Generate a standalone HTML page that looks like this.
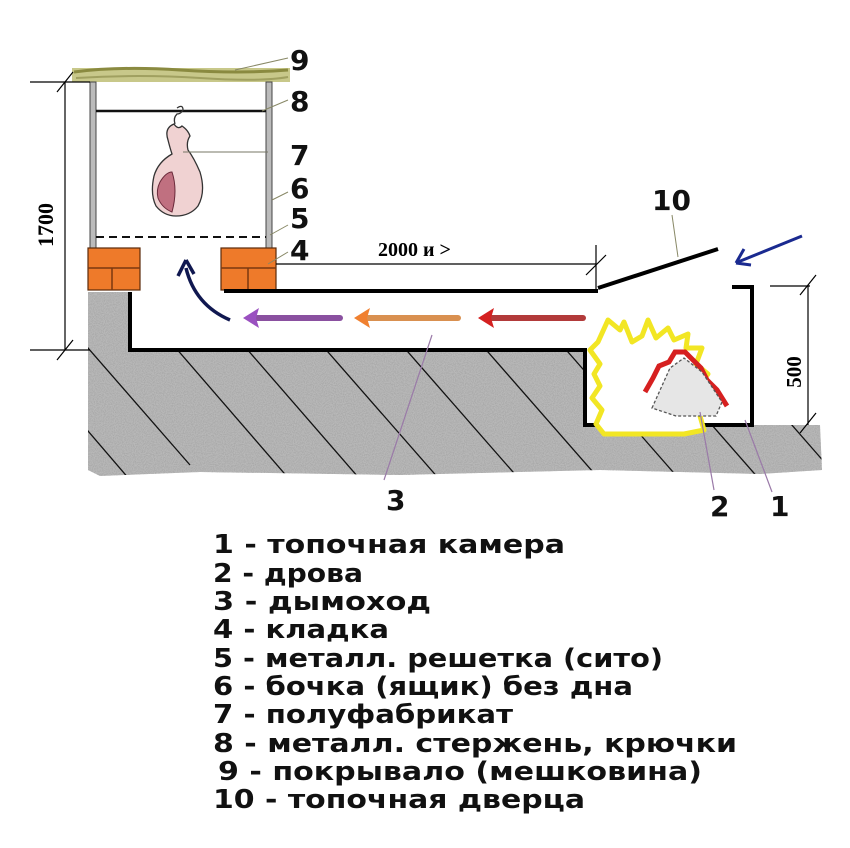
<!DOCTYPE html>
<html><head><meta charset="utf-8"><style>
html,body{margin:0;padding:0;background:#fff;}
svg{display:block;}
</style></head><body>
<svg width="850" height="848" viewBox="0 0 850 848" xmlns="http://www.w3.org/2000/svg">
<defs>
<filter id="noise" x="0" y="0" width="100%" height="100%">
<feTurbulence type="fractalNoise" baseFrequency="0.9" numOctaves="2" seed="3" result="t"/>
<feColorMatrix in="t" type="matrix" values="0 0 0 0 0.4  0 0 0 0 0.4  0 0 0 0 0.4  0 0 0 -3 1.9" result="n"/>
<feComposite in="n" in2="SourceGraphic" operator="in"/>
</filter>
<clipPath id="gclip"><path id="gp" d="M88,292 L130,292 L130,350 L585,350 L585,425 L752,425 L820,425 L822,470 L760,474 L600,470 L400,475 L200,472 L100,476 L88,470 Z"/></clipPath>
</defs>
<rect width="850" height="848" fill="#fff"/>

<!-- ground -->
<g clip-path="url(#gclip)">
<rect x="80" y="285" width="750" height="200" fill="#b8b8b8"/>
<rect x="80" y="285" width="750" height="200" fill="#fff" filter="url(#noise)"/>
<g stroke="#111" stroke-width="1.3">
<line x1="20" y1="270" x2="190" y2="465"/>
<line x1="40" y1="375" x2="130" y2="480"/>
<line x1="130" y1="295" x2="290" y2="480"/>
<line x1="200" y1="295" x2="365" y2="485"/>
<line x1="300" y1="320" x2="440" y2="480"/>
<line x1="380" y1="320" x2="520" y2="480"/>
<line x1="460" y1="320" x2="600" y2="480"/>
<line x1="540" y1="320" x2="680" y2="480"/>
<line x1="620" y1="320" x2="760" y2="480"/>
<line x1="700" y1="320" x2="840" y2="480"/>
</g>
</g>

<!-- cover -->
<rect x="72" y="68" width="218" height="14" fill="#c8c88a"/>
<path d="M74,72 Q120,66 180,70 T288,70" stroke="#8a8a40" stroke-width="3" fill="none"/>
<path d="M76,78 Q140,74 200,78 T288,77" stroke="#a0a060" stroke-width="2" fill="none"/>

<!-- barrel posts -->
<rect x="90" y="82" width="6" height="166" fill="#bbb" stroke="#444" stroke-width="1"/>
<rect x="266" y="82" width="6" height="166" fill="#bbb" stroke="#444" stroke-width="1"/>
<line x1="96" y1="111" x2="266" y2="111" stroke="#111" stroke-width="2.5"/>
<line x1="96" y1="237" x2="266" y2="237" stroke="#111" stroke-width="2" stroke-dasharray="8,5"/>

<!-- meat -->
<path d="M177,108 q6,-4 6,2 q-2,4 -6,4 q-4,4 -2,10" stroke="#333" stroke-width="1.3" fill="none"/>
<path d="M174,124 q-10,4 -6,16 q2,8 4,14 q-14,8 -18,22 q-4,18 2,30 q8,10 20,10 q14,0 22,-10 q8,-14 2,-34 q-6,-14 -12,-22 q-2,-8 2,-14 q-2,-6 -8,-10 q-4,4 -8,-2z" fill="#f0d2d2" stroke="#333" stroke-width="1.3"/>
<path d="M160,182 q6,-10 12,-10 q6,18 0,40 q-10,-4 -14,-14 q-2,-8 2,-16z" fill="#c07080" stroke="#6a2a3a" stroke-width="1"/>
<line x1="183" y1="152" x2="268" y2="152" stroke="#776" stroke-width="1"/>

<!-- bricks -->
<g fill="#ee7a2a" stroke="#5a2a0a" stroke-width="1.2">
<rect x="88" y="248" width="52" height="42"/>
<rect x="221" y="248" width="55" height="42"/>
</g>
<g stroke="#7a3810" stroke-width="1.5">
<line x1="88" y1="268" x2="140" y2="268"/><line x1="112" y1="268" x2="112" y2="290"/>
<line x1="221" y1="268" x2="276" y2="268"/><line x1="248" y1="268" x2="248" y2="290"/>
</g>

<!-- duct and firebox lines -->
<path d="M130,292 L130,350 L585,350 L585,425 L752,425 L752,287 L732,287" stroke="#000" stroke-width="4" fill="none"/>
<line x1="224" y1="291" x2="598" y2="291" stroke="#000" stroke-width="4"/>
<line x1="598" y1="288" x2="718" y2="249" stroke="#000" stroke-width="4"/>

<!-- dimension lines -->
<g stroke="#000" stroke-width="1.2">
<line x1="65" y1="82" x2="65" y2="350"/>
<line x1="30" y1="82" x2="90" y2="82"/><line x1="57" y1="92" x2="73" y2="72"/>
<line x1="30" y1="350" x2="90" y2="350"/><line x1="57" y1="360" x2="73" y2="340"/>
<line x1="276" y1="264" x2="596" y2="264"/>
<line x1="596" y1="245" x2="596" y2="290"/><line x1="586" y1="275" x2="606" y2="255"/>
<line x1="808" y1="285" x2="808" y2="425"/>
<line x1="770" y1="286" x2="810" y2="286"/><line x1="800" y1="295" x2="816" y2="275"/>
<line x1="800" y1="433" x2="816" y2="413"/>
</g>
<text x="0" y="0" transform="translate(53,225) rotate(-90)" text-anchor="middle" font-family="Liberation Serif, serif" font-weight="bold" font-size="22">1700</text>
<text x="0" y="0" transform="translate(801,372) rotate(-90)" text-anchor="middle" font-family="Liberation Serif, serif" font-weight="bold" font-size="21">500</text>
<text x="378" y="256" font-family="Liberation Serif, serif" font-weight="bold" font-size="20">2000 и &gt;</text>

<!-- flow arrows -->
<g stroke-width="6" fill="none" stroke-linecap="round">
<line x1="490" y1="318" x2="583" y2="318" stroke="#b23a3a"/>
<line x1="365" y1="318" x2="458" y2="318" stroke="#d99050"/>
<line x1="255" y1="318" x2="340" y2="318" stroke="#8a50a0"/>
</g>
<path d="M478,318 l16,-10 l-3,10 l3,10z" fill="#d42020"/>
<path d="M354,318 l16,-10 l-3,10 l3,10z" fill="#f08030"/>
<path d="M243,318 l16,-10 l-3,10 l3,10z" fill="#9a50c0"/>
<path d="M230,320 Q195,305 186,268" stroke="#101850" stroke-width="3.5" fill="none"/>
<path d="M186,260 l-8,16 m8,-16 l8,14" stroke="#101850" stroke-width="3.5" fill="none"/>
<path d="M802,236 L738,262" stroke="#1a2a90" stroke-width="3"/>
<path d="M736,263 l8,-14 m-8,14 l15,2" stroke="#1a2a90" stroke-width="3" fill="none"/>

<!-- fire -->
<path d="M608,320 l12,10 l4,-8 l8,20 l10,-6 l6,-16 l8,18 l12,-10 l6,12 l14,-6 l-2,14 l16,0 l-6,16 l12,10 l-8,10 l10,16 l-10,16 l4,14 l-20,4 l-80,0 l-8,-10 l6,-14 l-10,-12 l8,-12 l-6,-12 l6,-10 l-10,-14 l8,-8 z" fill="#fff" stroke="#f2e624" stroke-width="5" stroke-linejoin="round"/>
<path d="M645,392 l8,-14 l6,-12 l10,-4 l6,-10 l10,0 l8,8 l8,8 l6,12 l10,10 l10,16" fill="none" stroke="#d62020" stroke-width="5"/>
<path d="M652,408 l18,-40 l14,-10 l18,14 l20,30 l-6,14 l-40,0 z" fill="#e6e6e6" stroke="#555" stroke-width="1.3" stroke-dasharray="3,2"/>

<!-- leader lines -->
<g stroke="#886" stroke-width="1">
<line x1="235" y1="70" x2="288" y2="58"/>
<line x1="262" y1="111" x2="288" y2="100"/>
<line x1="272" y1="200" x2="288" y2="192"/>
<line x1="270" y1="235" x2="288" y2="225"/>
<line x1="268" y1="264" x2="288" y2="252"/>
<line x1="678" y1="257" x2="672" y2="215"/>
</g>
<g stroke="#9a7aa8" stroke-width="1.2">
<line x1="432" y1="335" x2="384" y2="480"/>
<line x1="700" y1="412" x2="714" y2="490"/>
<line x1="745" y1="420" x2="772" y2="492"/>
</g>

<!-- number labels -->
<g font-family="DejaVu Sans, Liberation Sans, sans-serif" font-size="28" font-weight="bold" fill="#111">
<text x="290" y="70">9</text>
<text x="290" y="111">8</text>
<text x="290" y="165">7</text>
<text x="290" y="198">6</text>
<text x="290" y="228">5</text>
<text x="290" y="260">4</text>
<text x="652" y="210">10</text>
<text x="386" y="510">3</text>
<text x="710" y="516">2</text>
<text x="770" y="516">1</text>
</g>

<!-- legend -->
<g font-family="DejaVu Sans, Liberation Sans, sans-serif" font-size="26" font-weight="bold" fill="#111">
<text x="213" y="553" textLength="352" lengthAdjust="spacingAndGlyphs">1 - топочная камера</text>
<text x="213" y="582" textLength="150" lengthAdjust="spacingAndGlyphs">2 - дрова</text>
<text x="213" y="610" textLength="218" lengthAdjust="spacingAndGlyphs">3 - дымоход</text>
<text x="213" y="638" textLength="176" lengthAdjust="spacingAndGlyphs">4 - кладка</text>
<text x="213" y="667" textLength="450" lengthAdjust="spacingAndGlyphs">5 - металл. решетка (сито)</text>
<text x="213" y="695" textLength="420" lengthAdjust="spacingAndGlyphs">6 - бочка (ящик) без дна</text>
<text x="213" y="723" textLength="300" lengthAdjust="spacingAndGlyphs">7 - полуфабрикат</text>
<text x="213" y="752" textLength="524" lengthAdjust="spacingAndGlyphs">8 - металл. стержень, крючки</text>
<text x="218" y="780" textLength="484" lengthAdjust="spacingAndGlyphs">9 - покрывало (мешковина)</text>
<text x="213" y="808" textLength="372" lengthAdjust="spacingAndGlyphs">10 - топочная дверца</text>
</g>
</svg>
</body></html>
